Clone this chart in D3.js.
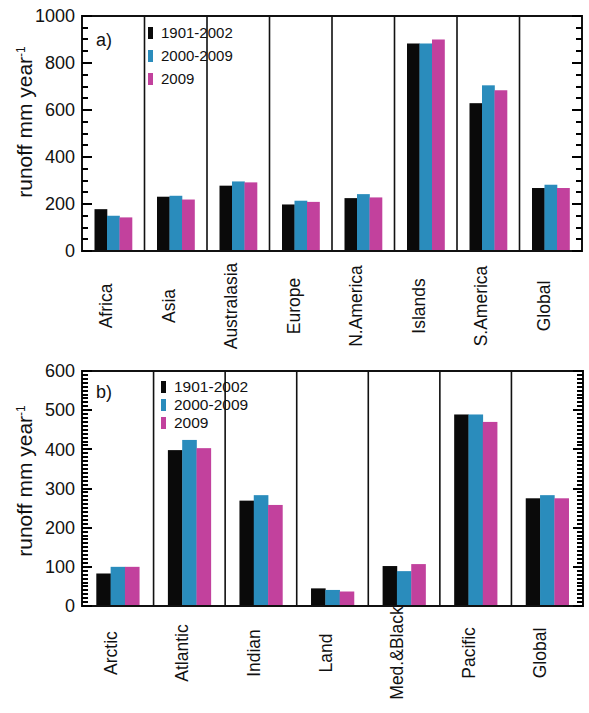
<!DOCTYPE html>
<html><head><meta charset="utf-8">
<script src="https://cdn.jsdelivr.net/npm/d3@7"></script>
<style>body{margin:0;background:#fff}svg{display:block}text{font-family:"Liberation Sans",Arial,sans-serif;fill:#111}</style>
</head><body><svg id="c" width="589" height="713"></svg>
<script>
const series = ["1901-2002","2000-2009","2009"];
const colors = ["#0a0a0a","#2a8cbc","#c2419d"];

const categoriesA = ["Africa","Asia","Australasia","Europe","N.America","Islands","S.America","Global"];
const a1901 = [178,231,278,198,225,883,629,268];
const a2000 = [150,235,296,214,242,883,705,282];
const a2009 = [143,219,292,209,228,900,684,268];
const ticksA = [0,200,400,600,800,1000];

const categoriesB = ["Arctic","Atlantic","Indian","Land","Med.&Black","Pacific","Global"];
const b1901 = [83,398,269,45,102,489,275];
const b2000 = [100,424,283,41,89,489,283];
const b2009 = [100,403,258,37,107,470,275];
const ticksB = [0,100,200,300,400,500,600];

const svg = d3.select("#c");

function panel(o){
  const g = svg.append("g");
  const x0 = d3.scaleBand().domain(o.cats).range([o.left,o.right]).padding(0);
  const bw = x0.bandwidth();
  const x1 = d3.scaleBand().domain(series).range([bw*0.2,bw*0.8]).padding(0);
  const y = d3.scaleLinear().domain([0,o.max]).range([o.bottom,o.top]);
  const vals = o.vals;
  o.cats.forEach((c,ci)=>{
    series.forEach((s,si)=>{
      const v = vals[si][ci];
      g.append("rect").attr("x",x0(c)+x1(s)).attr("width",x1.bandwidth()+0.3)
        .attr("y",y(v)).attr("height",y(0)-y(v)).attr("fill",colors[si]);
    });
  });
  o.cats.slice(1).forEach(c=>{
    g.append("rect").attr("x",x0(c)-0.8).attr("width",1.6).attr("y",o.top).attr("height",o.bottom-o.top)
      .attr("fill","#111");
  });
  g.append("rect").attr("x",o.left).attr("y",o.top).attr("width",o.right-o.left).attr("height",o.bottom-o.top)
    .attr("fill","none").attr("stroke","#111").attr("stroke-width",2);
  const allTicks = d3.range(0,o.max+0.001,o.minor);
  allTicks.forEach(v=>{
    const major = o.ticks.indexOf(v) >= 0;
    const len = major ? 10 : 6;
    const yy = Math.round(y(v));
    g.append("rect").attr("x",o.left).attr("y",yy-1).attr("width",len).attr("height",2).attr("fill","#000");
    g.append("rect").attr("x",o.right-len).attr("y",yy-1).attr("width",len).attr("height",2).attr("fill","#000");
  });
  o.ticks.forEach(v=>{
    g.append("text").attr("x",o.left-7).attr("y",y(v)).attr("dy","0.35em")
      .attr("text-anchor","end").style("font-size","18px").text(d3.format("d")(v));
  });
  o.cats.forEach(c=>{
    g.append("text").attr("transform",`translate(${x0(c)+bw/2-1},${o.labelY}) rotate(-90)`)
      .attr("text-anchor","middle").style("font-size","17.5px").text(c);
  });
  const t = g.append("text").attr("transform",`translate(32,${o.titleY}) rotate(-90)`)
    .attr("text-anchor","middle").style("font-size","21px");
  t.append("tspan").text("runoff mm year");
  t.append("tspan").attr("dy","-0.55em").style("font-size","12px").text("-1");
  g.append("text").attr("x",o.left+14).attr("y",o.letterY).style("font-size","18px").text(o.letter);
  series.forEach((s,i)=>{
    const yy = o.legY + i*o.legDy;
    g.append("rect").attr("x",o.legX).attr("y",yy-6).attr("width",5).attr("height",12).attr("fill",colors[i]);
    g.append("text").attr("x",o.legX+13).attr("y",yy).attr("dy","0.35em").style("font-size",o.legFs).text(s);
  });
}

panel({cats:categoriesA, vals:[a1901,a2000,a2009], max:1000, ticks:ticksA, minor:50,
  left:82,right:582,top:16,bottom:251,labelY:306,titleY:122,letter:"a)",letterY:46,
  legX:148,legY:33,legDy:23,legFs:"15px"});
panel({cats:categoriesB, vals:[b1901,b2000,b2009], max:600, ticks:ticksB, minor:10,
  left:82,right:583,top:371,bottom:606,labelY:653,titleY:481,letter:"b)",letterY:398,
  legX:161,legY:387,legDy:18,legFs:"15.5px"});
</script></body></html>
